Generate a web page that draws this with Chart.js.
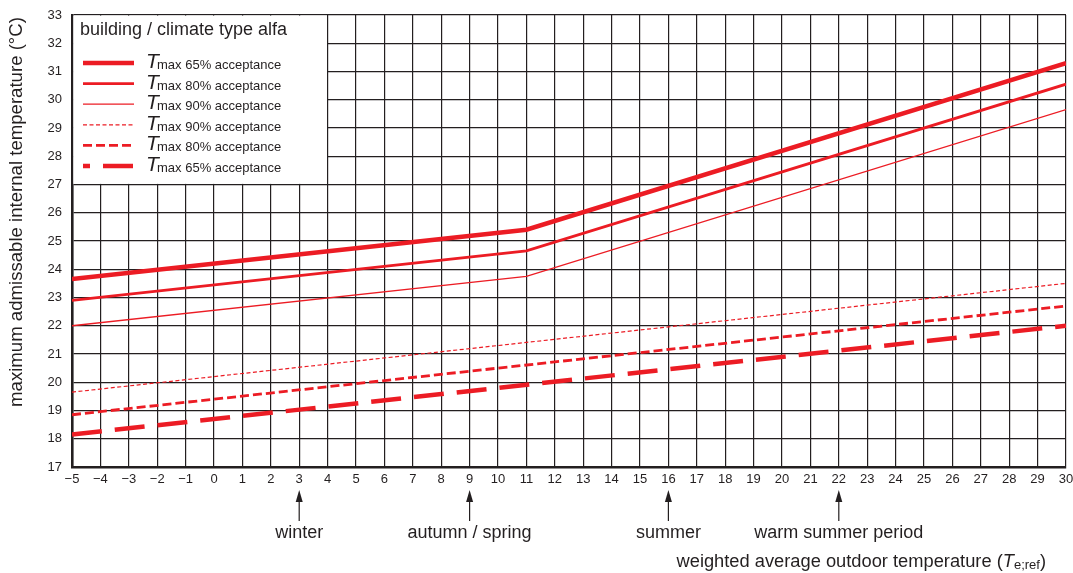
<!DOCTYPE html>
<html>
<head>
<meta charset="utf-8">
<script src="https://cdn.jsdelivr.net/npm/chart.js@4.4.1/dist/chart.umd.min.js"></script>
<style>
  html, body { margin: 0; padding: 0; background: #fff; }
  #wrap { width: 1073px; height: 573px; }
</style>
</head>
<body>
<div id="wrap"><canvas id="chart"></canvas></div>
<script>
// upper limits bend at Te = 11, lower limits are straight lines
const upperTemps = [-5, 11, 30];
const upper65 = [23.65, 25.4, 31.3];
const upper80 = [22.9, 24.65, 30.55];
const upper90 = [22.0, 23.75, 29.65];

const lowerTemps = [-5, 30];
const lower90 = [19.65, 23.5];
const lower80 = [18.85, 22.7];
const lower65 = [18.15, 22.0];

const seriesLabels = ['max 65% acceptance', 'max 80% acceptance', 'max 90% acceptance',
  'max 90% acceptance', 'max 80% acceptance', 'max 65% acceptance'];

const seasonNames = ['winter', 'autumn / spring', 'summer', 'warm summer period'];
const seasonTemps = [3, 9, 16, 22];

const RED = '#ec1c24';
const INK = '#231f20';
const FONT = '"Liberation Sans", Arial, sans-serif';

const toPoints = (xs, ys) => xs.map((x, i) => ({ x: x, y: ys[i] }));

function makeSet(label, xs, ys, width, dash) {
  return {
    label: label,
    data: toPoints(xs, ys),
    borderColor: RED,
    borderWidth: width,
    borderDash: dash,
    borderCapStyle: 'butt',
    pointRadius: 0,
    tension: 0,
    fill: false
  };
}

const datasets = [
  makeSet(seriesLabels[0], upperTemps, upper65, 4.5, []),
  makeSet(seriesLabels[1], upperTemps, upper80, 2.8, []),
  makeSet(seriesLabels[2], upperTemps, upper90, 1.3, []),
  makeSet(seriesLabels[3], lowerTemps, lower90, 1.2, [4, 2.5]),
  makeSet(seriesLabels[4], lowerTemps, lower80, 2.8, [9, 4]),
  makeSet(seriesLabels[5], lowerTemps, lower65, 4.5, [30, 13])
];
datasets[5].legendDashOffset = 23;

// legend panel covers the grid cells from Te -5..4 and 27..33 °C
const legendPanel = {
  id: 'legendPanel',
  afterDatasetsDraw(chart) {
    const { ctx, scales: { x, y } } = chart;
    const l = x.getPixelForValue(-5), r = x.getPixelForValue(4);
    const t = y.getPixelForValue(33), b = y.getPixelForValue(27);
    ctx.save();
    ctx.fillStyle = '#fff';
    ctx.fillRect(l + 1.3, t + 0.6, r - l - 1.9, b - t - 1.2);
    ctx.fillStyle = INK;
    ctx.font = '18px ' + FONT;
    ctx.textBaseline = 'alphabetic';
    ctx.fillText('building / climate type alfa', l + 8, t + 20);

    chart.data.datasets.forEach((ds, i) => {
      const ly = t + 48 + i * 20.6;
      ctx.beginPath();
      ctx.strokeStyle = ds.borderColor;
      ctx.lineWidth = ds.borderWidth;
      ctx.lineCap = 'butt';
      ctx.setLineDash(ds.borderDash);
      ctx.lineDashOffset = ds.legendDashOffset || 0;
      ctx.moveTo(l + 11, ly);
      ctx.lineTo(l + 62, ly);
      ctx.stroke();
      ctx.setLineDash([]);
      ctx.lineDashOffset = 0;

      ctx.fillStyle = INK;
      ctx.font = 'italic 21px ' + FONT;
      ctx.fillText('T', l + 74, ly + 5);
      ctx.font = '13px ' + FONT;
      ctx.fillText(ds.label, l + 85, ly + 6);
    });
    ctx.restore();
  }
};

// season markers and axis titles
const annotations = {
  id: 'annotations',
  afterDraw(chart) {
    const { ctx, scales: { x } } = chart;
    ctx.save();
    ctx.fillStyle = INK;
    ctx.strokeStyle = INK;

    seasonTemps.forEach((temp, i) => {
      const px = x.getPixelForValue(temp);
      ctx.lineWidth = 1.2;
      ctx.beginPath();
      ctx.moveTo(px, 500);
      ctx.lineTo(px, 521);
      ctx.stroke();
      ctx.beginPath();
      ctx.moveTo(px, 490);
      ctx.lineTo(px - 3.5, 502);
      ctx.lineTo(px + 3.5, 502);
      ctx.closePath();
      ctx.fill();
      ctx.font = '18px ' + FONT;
      ctx.textAlign = 'center';
      ctx.textBaseline = 'middle';
      ctx.fillText(seasonNames[i], px, 533);
    });

    // x title with subscript reference symbol
    const parts = [
      ['weighted average outdoor temperature (', '18.3px ' + FONT, 0],
      ['T', 'italic 18.3px ' + FONT, 0],
      ['e;ref', '13px ' + FONT, 2],
      [')', '18.3px ' + FONT, 0]
    ];
    ctx.textAlign = 'left';
    ctx.textBaseline = 'alphabetic';
    let total = 0;
    parts.forEach(p => { ctx.font = p[1]; total += ctx.measureText(p[0]).width; });
    let cx = 1046 - total;
    parts.forEach(p => {
      ctx.font = p[1];
      ctx.fillText(p[0], cx, 567 + p[2]);
      cx += ctx.measureText(p[0]).width;
    });

    // y title
    ctx.translate(17, 212);
    ctx.rotate(-Math.PI / 2);
    ctx.font = '18.6px ' + FONT;
    ctx.textAlign = 'center';
    ctx.textBaseline = 'middle';
    ctx.fillText('maximum admissable internal temperature (\u00b0C)', 0, 0);
    ctx.restore();
  }
};

new Chart(document.getElementById('chart'), {
  type: 'line',
  data: { datasets: datasets },
  plugins: [legendPanel, annotations],
  options: {
    responsive: true,
    maintainAspectRatio: false,
    animation: false,
    layout: { padding: { top: 15, right: 7, left: 0, bottom: 0 } },
    plugins: {
      legend: { display: false },
      tooltip: { enabled: false }
    },
    scales: {
      x: {
        type: 'linear',
        min: -5,
        max: 30,
        afterFit: (s) => {
          s.height = 106;
          s.paddingLeft = 0;
          s.paddingRight = 0;
        },
        ticks: {
          stepSize: 1,
          autoSkip: false,
          maxRotation: 0,
          padding: 5,
          color: INK,
          font: { family: FONT, size: 13 },
          callback: (v) => v < 0 ? '\u2212' + Math.abs(v) : String(v)
        },
        grid: { color: INK, lineWidth: 1.2, drawTicks: false },
        border: { color: INK, width: 2.6 }
      },
      y: {
        min: 17,
        max: 33,
        afterFit: (s) => {
          s.width = 72;
          s.paddingTop = 0;
          s.paddingBottom = 0;
        },
        ticks: {
          stepSize: 1,
          padding: 10,
          color: INK,
          font: { family: FONT, size: 13 }
        },
        grid: { color: INK, lineWidth: 1.2, drawTicks: false },
        border: { color: INK, width: 2.6 }
      }
    }
  }
});
</script>
</body>
</html>
